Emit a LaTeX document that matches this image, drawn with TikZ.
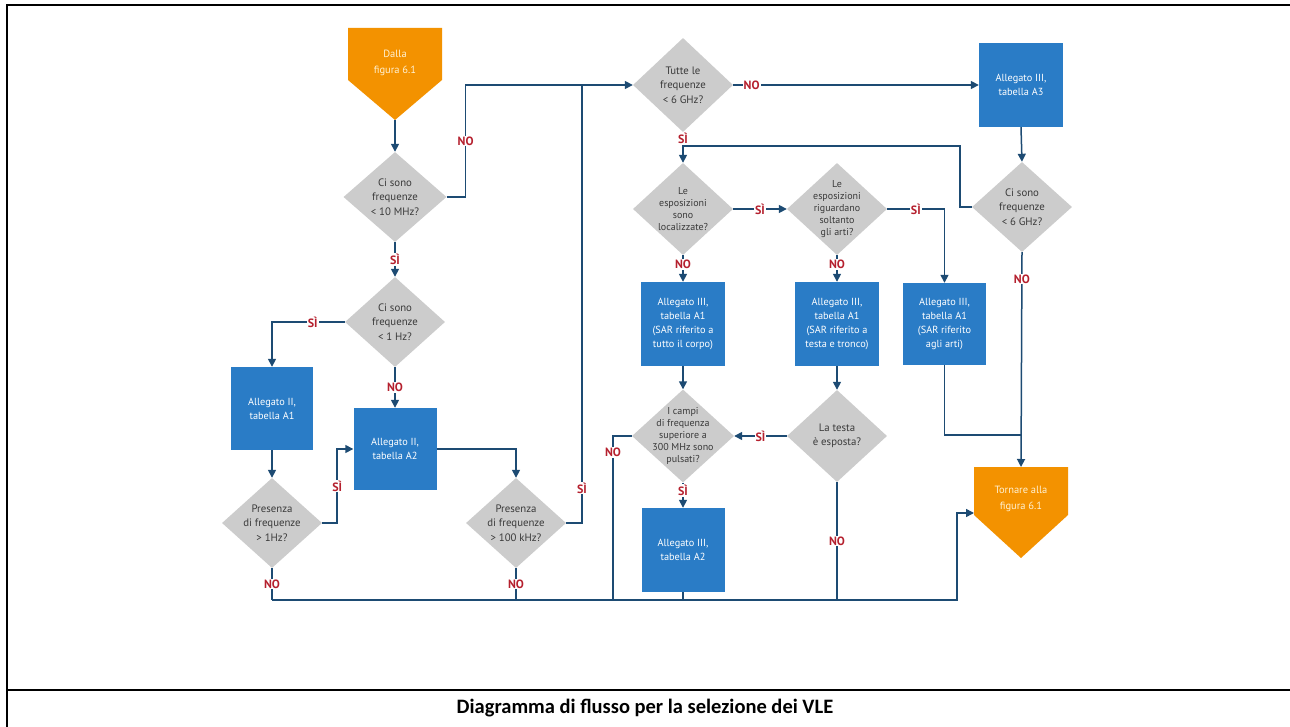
\documentclass[tikz,border=0pt]{standalone}
\usepackage{fontspec}
\setmainfont{PT Sans}
\newfontfamily\captionfont{Carlito}
\usetikzlibrary{shapes.geometric,arrows.meta}
\definecolor{flowline}{HTML}{1D4B73}
\definecolor{boxblue}{HTML}{2A7CC6}
\definecolor{diagray}{HTML}{CCCCCC}
\definecolor{termorange}{HTML}{F39200}
\definecolor{termtext}{HTML}{FFF1D2}
\definecolor{labred}{HTML}{B5202E}
\definecolor{txtgray}{HTML}{3A3A3A}
\begin{document}
\begin{tikzpicture}[x=1pt,y=-1pt,
  dia/.style={diamond, fill=diagray, inner sep=0pt, minimum width=100pt, minimum height=92pt},
  dtxt/.style={align=center, text=txtgray, inner sep=0pt, font=\fontsize{10.8}{14.5}\selectfont},
  dtxts/.style={dtxt, font=\fontsize{10}{12}\selectfont},
  bluebox/.style={rectangle, fill=boxblue, minimum width=84pt, minimum height=84pt, inner sep=0pt, align=center, text=white, font=\fontsize{10.3}{14}\selectfont},
  ttxt/.style={align=center, text=termtext, font=\fontsize{10.5}{16}\selectfont},
  lab/.style={fill=white, inner sep=1pt, text=labred, font=\bfseries\fontsize{12}{13}\selectfont},
  conn/.style={draw=flowline, line width=1.5pt},
  arr/.style={conn, -{Triangle[length=8pt,width=8pt]}},
]
\useasboundingbox (0,0) rectangle (1290,727);
\fill[white] (0,0) rectangle (1290,727);

% outer frame and caption
\draw[line width=1.5pt] (7,727) -- (7,5);
\draw[line width=2pt] (6,5) -- (1290,5);
\draw[line width=2pt] (7,690) -- (1290,690);
\node[font=\captionfont\bfseries\fontsize{20.5}{24}\selectfont] (caption) at (645,708) {Diagramma di flusso per la selezione dei VLE};

% terminal shapes
\fill[termorange] (348,28) -- (442,28) -- (442,80) -- (395,120) -- (348,80) -- cycle;
\node[ttxt] (start) at (395,63) {Dalla\\figura 6.1};
\coordinate (sTip) at (395,120);

\fill[termorange] (974,467) -- (1068,467) -- (1068,515) -- (1021,558) -- (974,515) -- cycle;
\node[ttxt] (finish) at (1021,499) {Tornare alla\\figura 6.1};
\coordinate (eN) at (1021,467);
\coordinate (eW) at (974,513);

% decisions
\node[dia, minimum width=103pt, minimum height=90pt, label={[dtxt]center:{Ci sono\\frequenze\\< 10 MHz?}}] (d1) at (395,197) {};
\node[dia, minimum height=90pt, label={[dtxt]center:{Ci sono\\frequenze\\< 1 Hz?}}] (d2) at (395,322) {};
\node[dia, minimum height=90pt, label={[dtxt]center:{Presenza\\di frequenze\\> 1Hz?}}] (d3) at (272,523) {};
\node[dia, minimum height=90pt, label={[dtxt]center:{Presenza\\di frequenze\\> 100 kHz?}}] (d4) at (516,523) {};
\node[dia, minimum height=94pt, label={[dtxt]center:{Tutte le\\frequenze\\< 6 GHz?}}] (d5) at (683,85) {};
\node[dia, label={[dtxts]center:{Le\\esposizioni\\sono\\localizzate?}}] (d6) at (683,209) {};
\node[dia, label={[dtxts]center:{Le\\esposizioni\\riguardano\\soltanto\\gli arti?}}] (d7) at (837,209) {};
\node[dia, minimum height=90pt, label={[dtxt]center:{Ci sono\\frequenze\\< 6 GHz?}}] (d8) at (1022,207) {};
\node[dia, minimum width=102pt, minimum height=93pt, label={[dtxts]center:{I campi\\di frequenza\\superiore a\\300 MHz sono\\pulsati?}}] (d9) at (683,436) {};
\node[dia, label={[dtxt]center:{La testa\\è esposta?}}] (d10) at (837,436) {};

% processes
\node[bluebox, minimum width=82pt, minimum height=83pt] (bA1) at (272,408.5) {Allegato II,\\tabella A1};
\node[bluebox, minimum width=83pt, minimum height=82pt] (bA2) at (395,449) {Allegato II,\\tabella A2};
\node[bluebox] (bA3) at (1021,85) {Allegato III,\\tabella A3};
\node[bluebox] (b4) at (683,324) {Allegato III,\\tabella A1\\(SAR riferito a\\tutto il corpo)};
\node[bluebox] (b5) at (837,324) {Allegato III,\\tabella A1\\(SAR riferito a\\testa e tronco)};
\node[bluebox, minimum width=83pt, minimum height=82pt] (b6) at (944.5,324) {Allegato III,\\tabella A1\\(SAR riferito\\agli arti)};
\node[bluebox, minimum width=83pt] (b7) at (683,550) {Allegato III,\\tabella A2};

% junction points
\coordinate (j1) at (582,85);
\coordinate (j2) at (683,146);
\coordinate (j3) at (1021,435);
\coordinate (bus1) at (272,600);
\coordinate (bus2) at (516,600);
\coordinate (bus3) at (613,600);
\coordinate (bus4) at (683,600);
\coordinate (bus5) at (837,600);
\coordinate (bus6) at (957,600);

% connectors, left part
\draw[arr] (sTip) -- (d1.north);
\draw[arr] (d1.south) -- node[lab]{SÌ} (d2.north);
\draw[arr] (d1.east) -- ++(19,0) |- node[lab,pos=0.25]{NO} (d5.west);
\draw[arr] (d2.west) -| node[lab,pos=0.22]{SÌ} (bA1.north);
\draw[arr] (d2.south) -- node[lab]{NO} (bA2.north);
\draw[arr] (bA1.south) -- (d3.north);
\draw[arr] (d3.east) -- ++(15,0) |- node[lab,pos=0.25]{SÌ} (bA2.west);
\draw[arr] (bA2.east) -| (d4.north);
\draw[conn] (d4.east) -| node[lab,pos=0.54]{SÌ} (j1);
\draw[conn] (d3.south) -- node[lab]{NO} (bus1);
\draw[conn] (d4.south) -- node[lab]{NO} (bus2);
\draw[arr] (bus1) -- (bus6) |- (eW);

% connectors, right part
\draw[arr] (d5.east) -- node[lab,pos=0.075]{NO} (bA3.west);
\draw[arr] (d5.south) -- node[lab,pos=0.2]{SÌ} (d6.north);
\draw[arr] (bA3.south) -- (d8.north);
\draw[conn] (d8.west) -- ++(-12,0) |- (j2);
\draw[arr] (d6.east) -- node[lab]{SÌ} (d7.west);
\draw[arr] (d6.south) -- node[lab,pos=0.35]{NO} (b4.north);
\draw[arr] (d7.south) -- node[lab,pos=0.35]{NO} (b5.north);
\draw[arr] (d7.east) -| node[lab,pos=0.25]{SÌ} (b6.north);
\draw[arr] (d8.south) -- node[lab,pos=0.125]{NO} (eN);
\draw[conn] (b6.south) |- (j3);
\draw[arr] (b4.south) -- (d9.north);
\draw[arr] (b5.south) -- (d10.north);
\draw[arr] (d10.west) -- node[lab]{SÌ} (d9.east);
\draw[conn] (d10.south) -- node[lab]{NO} (bus5);
\draw[conn] (d9.west) -| node[lab,pos=0.55]{NO} (bus3);
\draw[arr] (d9.south) -- node[lab,pos=0.3]{SÌ} (b7.north);
\draw[conn] (b7.south) -- (bus4);
\end{tikzpicture}
\end{document}
